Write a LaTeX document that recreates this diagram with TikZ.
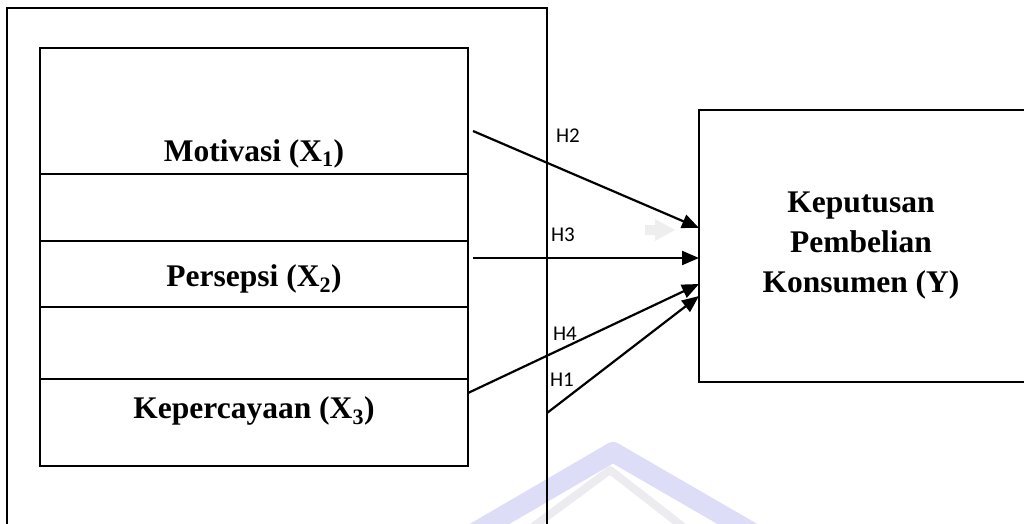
\documentclass[tikz,border=0pt]{standalone}
\usepackage{fontspec}
\setmainfont{Liberation Serif}
\newfontfamily\lblfont{Carlito}
\usetikzlibrary{arrows.meta}
\definecolor{wmblue}{RGB}{221,221,247}
\definecolor{wmgray}{RGB}{236,236,240}
\definecolor{ghost}{RGB}{238,238,238}
\tikzset{
  boxline/.style={draw=black, line width=1.8pt},
  varlabel/.style={font=\fontsize{31.5}{40}\selectfont\bfseries, inner sep=0pt, anchor=base},
  hyp/.style={font=\lblfont\fontsize{21}{24}\selectfont, inner sep=0pt},
  arr/.style={line width=2.2pt, -{Triangle[length=17pt,width=14pt]}},
}
\begin{document}
\begin{tikzpicture}[x=1pt,y=-1pt]
\useasboundingbox (0,0) rectangle (1024,524);
% watermark
\draw[wmblue, line width=20pt, line join=round, line cap=round] (462,540) -- (613,452) -- (765,540);
\draw[wmgray, line width=8pt, line join=round] (515,540) -- (610,470) -- (700,540);
% ghost arrow artifact
\fill[ghost] (645,225) -- (655,225) -- (655,219) -- (675,230) -- (655,241) -- (655,235) -- (645,235) -- cycle;
% outer box
\draw[boxline] (7,8) rectangle (547,540);
% inner stacked box
\draw[boxline] (40,48) rectangle (468,466);
\draw[boxline] (40,174) -- (468,174);
\draw[boxline] (40,241) -- (468,241);
\draw[boxline] (40,307) -- (468,307);
\draw[boxline] (40,379) -- (468,379);
\node[varlabel] (x1) at (254,161) {Motivasi (X\textsubscript{1})};
\node[varlabel] (x2) at (254,286) {Persepsi (X\textsubscript{2})};
\node[varlabel] (x3) at (254,418) {Kepercayaan (X\textsubscript{3})};
% dependent box
\draw[boxline] (699,110) rectangle (1030,382);
\node[font=\fontsize{31.5}{40}\selectfont\bfseries, align=center, inner sep=0pt] (y) at (861,246) {Keputusan\\Pembelian\\Konsumen (Y)};
% connector coordinates
\coordinate (h2s) at (473,131);
\coordinate (h2e) at (699,228);
\coordinate (h3s) at (473,258);
\coordinate (h3e) at (699,258);
\coordinate (h4s) at (468,393);
\coordinate (h4e) at (699,284);
\coordinate (h1s) at (547,413);
\coordinate (h1e) at (699,296);
\draw[arr] (h2s) -- (h2e);
\draw[arr] (h3s) -- (h3e);
\draw[arr] (h4s) -- (h4e);
\draw[arr] (h1s) -- (h1e);
\node[hyp] (lh2) at (568,136) {H2};
\node[hyp] (lh3) at (563,235) {H3};
\node[hyp] (lh4) at (565,334) {H4};
\node[hyp] (lh1) at (562,380) {H1};
\end{tikzpicture}
\end{document}
